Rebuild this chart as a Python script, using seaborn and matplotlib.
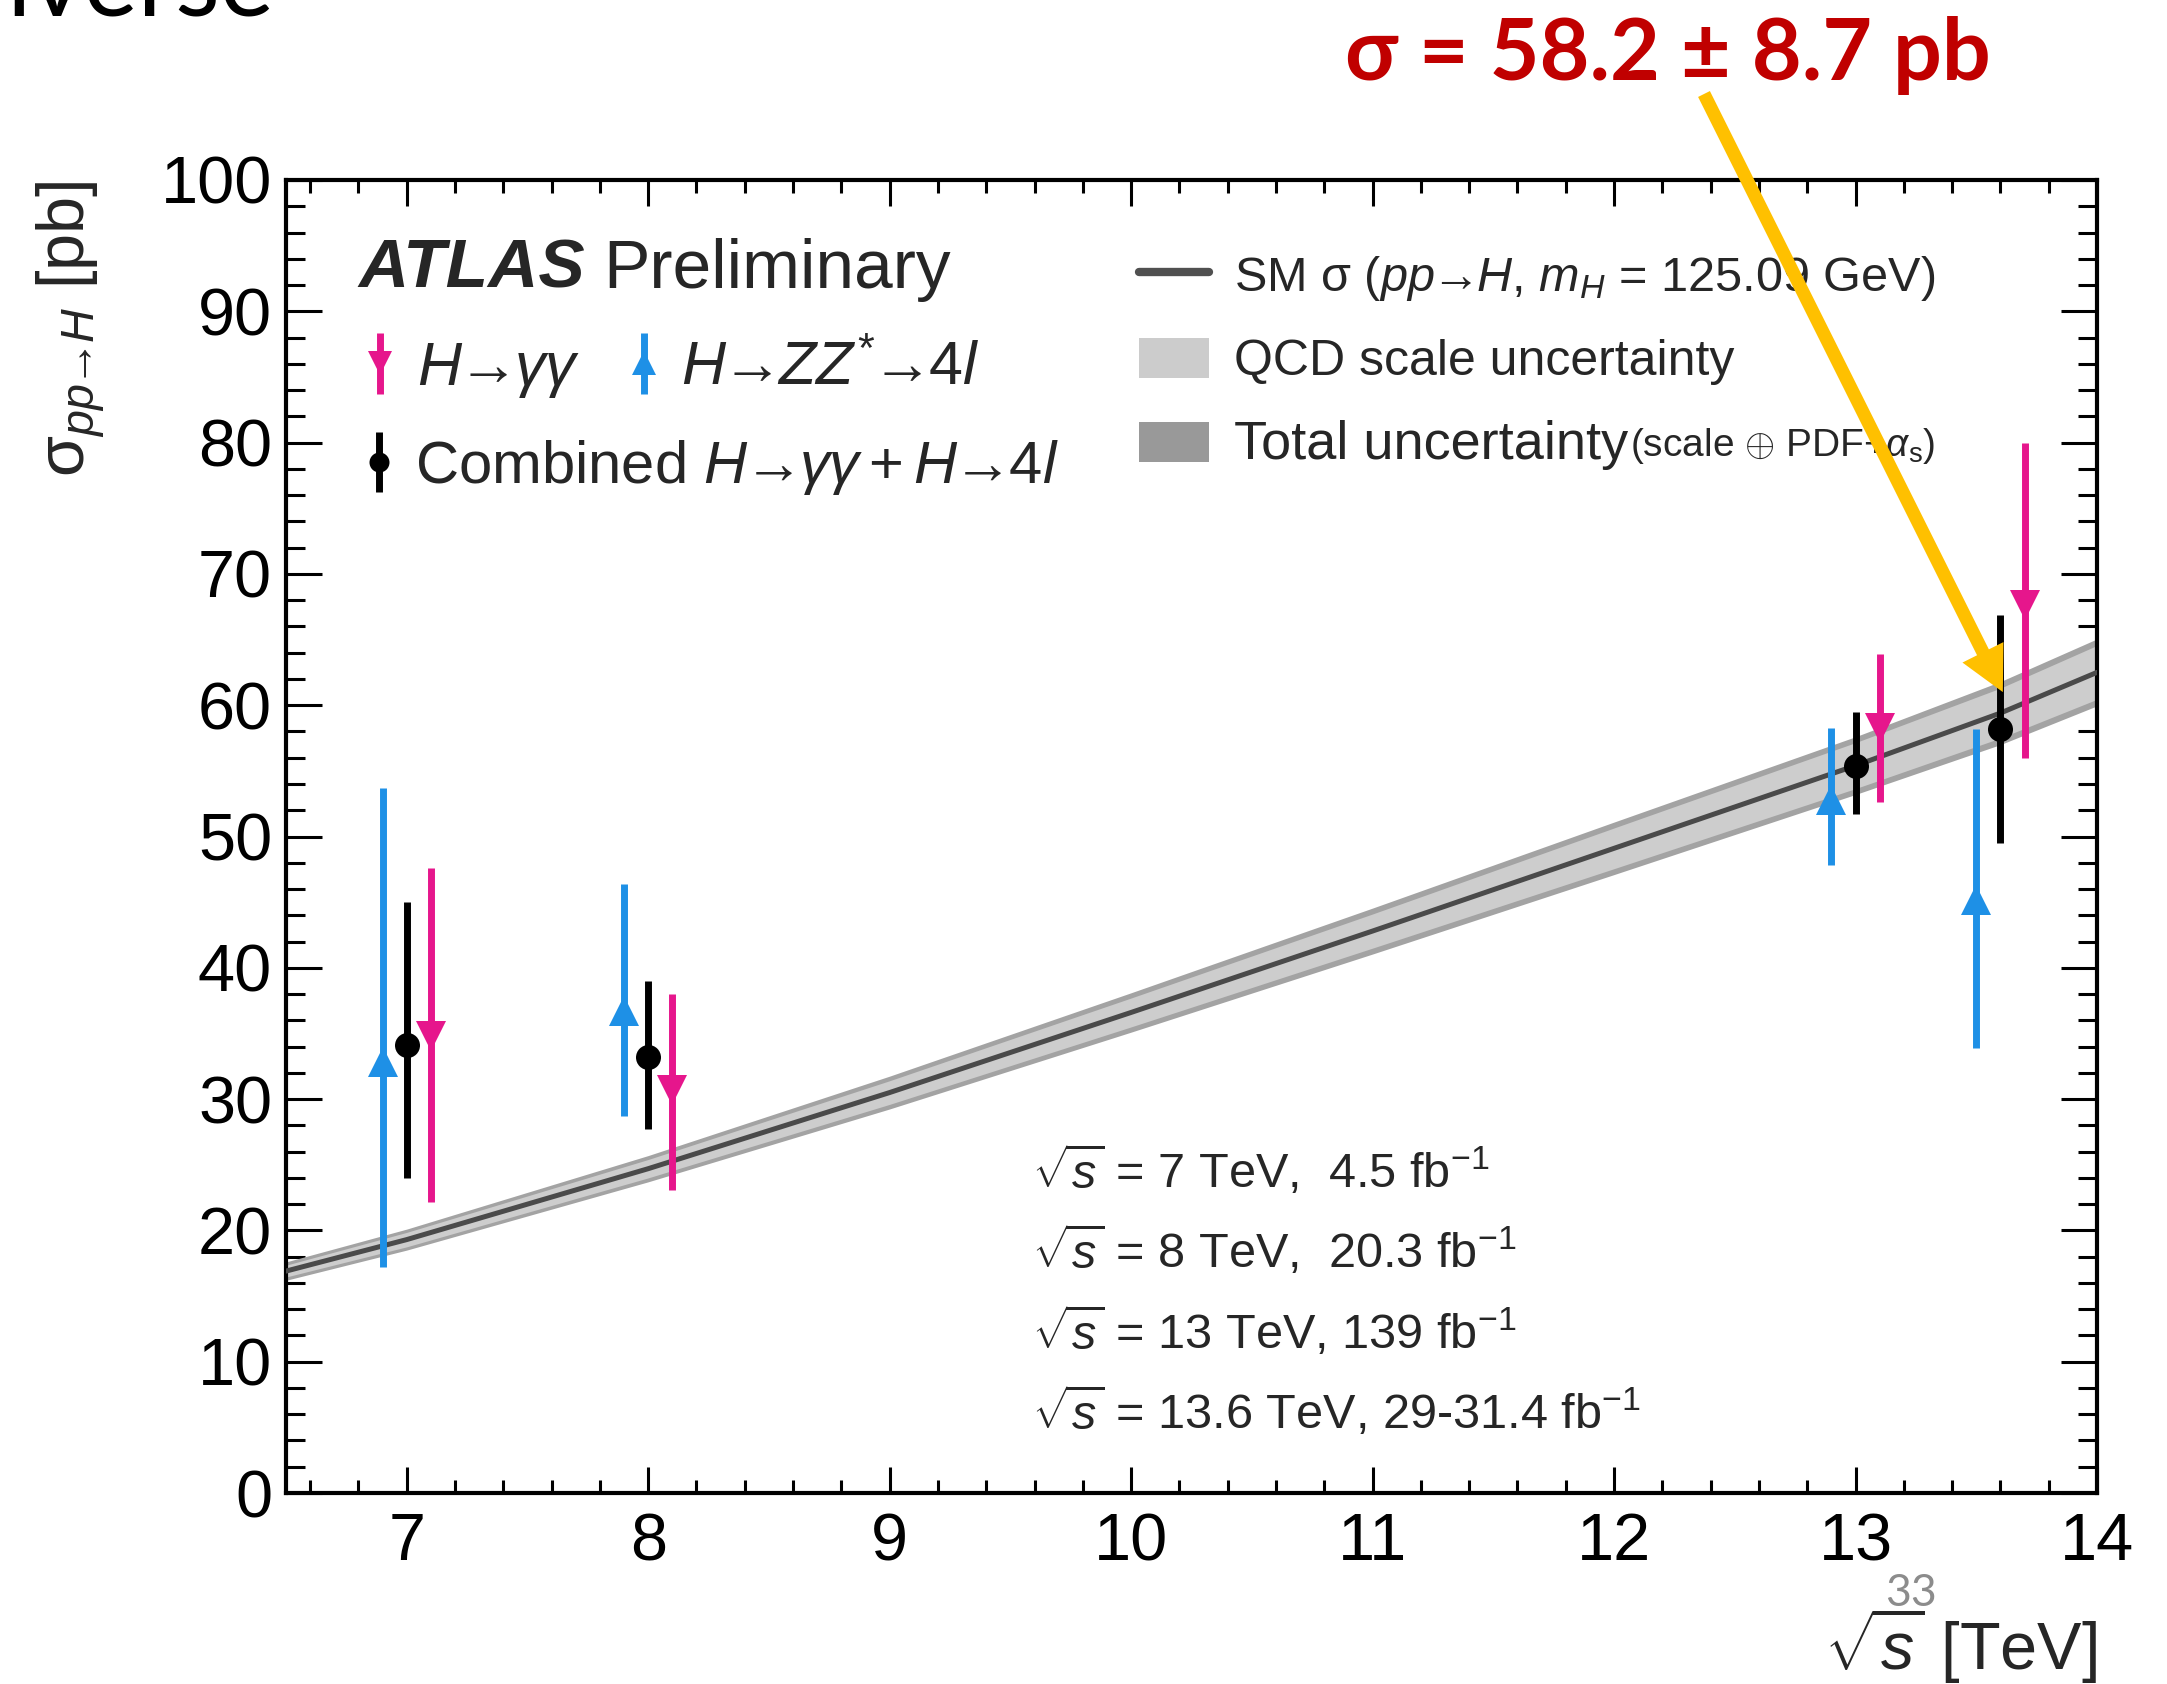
import matplotlib
matplotlib.use('Agg')
import matplotlib.pyplot as plt
from matplotlib.lines import Line2D
from matplotlib.patches import Patch
from matplotlib.ticker import MultipleLocator
import numpy as np
import seaborn as sns

# SM prediction for sigma(pp->H) vs sqrt(s)
sm_sqrt_s = [6.5, 7, 8, 9, 10, 11, 12, 13, 13.6, 14]
sm_xsec = [16.9, 19.3, 24.7, 30.5, 36.6, 42.8, 49.1, 55.4, 59.4, 62.5]
sm_err_total = [0.7, 0.8, 1.0, 1.25, 1.5, 1.75, 2.0, 2.2, 2.4, 2.55]
sm_err_scale = [0.45, 0.55, 0.7, 0.9, 1.1, 1.3, 1.55, 1.75, 1.9, 2.05]

# Measurements (central value, lower and upper edge of the error bar)
meas_sqrt_s = [7, 8, 13, 13.6]
gg_xsec = [34.8, 30.7, 58.3, 67.6]
gg_lo = [22.2, 23.1, 52.6, 56.0]
gg_hi = [47.6, 38.0, 63.9, 80.0]
zz_xsec = [32.8, 36.7, 52.8, 45.2]
zz_lo = [17.2, 28.7, 47.8, 33.9]
zz_hi = [53.7, 46.4, 58.3, 58.2]
comb_xsec = [34.1, 33.2, 55.4, 58.2]
comb_lo = [24.0, 27.7, 51.7, 49.5]
comb_hi = [45.0, 39.0, 59.5, 66.9]

lumi_lines = [r'$\sqrt{s}$ = 7 TeV,  4.5 fb$^{-1}$',
              r'$\sqrt{s}$ = 8 TeV,  20.3 fb$^{-1}$',
              r'$\sqrt{s}$ = 13 TeV, 139 fb$^{-1}$',
              r'$\sqrt{s}$ = 13.6 TeV, 29-31.4 fb$^{-1}$']

blue = '#1E90E6'
magenta = '#E6168C'
arr = r'\!\!\>\!\rightarrow\!\>\!\!'  # fairly tight arrow like in ROOT

sns.set_style('ticks')
plt.rcParams['font.family'] = ['Liberation Sans', 'DejaVu Sans']
plt.rcParams['mathtext.fontset'] = 'custom'
plt.rcParams['mathtext.rm'] = 'Liberation Sans'
plt.rcParams['mathtext.it'] = 'Liberation Sans:italic'
plt.rcParams['mathtext.bf'] = 'Liberation Sans:bold'

fig = plt.figure(figsize=(21.67, 16.84), dpi=100)
ax = fig.add_axes([286 / 2167, 1 - 1493 / 1684, 1811 / 2167, 1313 / 1684])

# SM bands + central line
sm_x = np.array(sm_sqrt_s)
sm_y = np.array(sm_xsec)
ax.fill_between(sm_x, sm_y - np.array(sm_err_total), sm_y + np.array(sm_err_total),
                color='#a3a3a3', lw=0, zorder=1)
ax.fill_between(sm_x, sm_y - np.array(sm_err_scale), sm_y + np.array(sm_err_scale),
                color='#cdcdcd', lw=0, zorder=2)
sns.lineplot(x=sm_x, y=sm_y, ax=ax, color='#4a4a4a', lw=3.6, zorder=3)

# measurements, shifted a bit in x so they don't overlap
x_meas = np.array(meas_sqrt_s)
def draw_points(dx, yc, lo, hi, fmt, color, ms):
    yc = np.array(yc)
    err = [yc - np.array(lo), np.array(hi) - yc]
    return ax.errorbar(x_meas + dx, yc, yerr=err, fmt=fmt, color=color, ms=ms,
                       elinewidth=5, capsize=0, mew=0, zorder=5)

h_zz = draw_points(-0.1, zz_xsec, zz_lo, zz_hi, '^', blue, 21)
h_comb = draw_points(0.0, comb_xsec, comb_lo, comb_hi, 'o', 'black', 18)
h_gg = draw_points(0.1, gg_xsec, gg_lo, gg_hi, 'v', magenta, 21)

ax.set_xlim(6.5, 14)
ax.set_ylim(0, 100)
ax.xaxis.set_major_locator(MultipleLocator(1))
ax.xaxis.set_minor_locator(MultipleLocator(0.2))
ax.yaxis.set_major_locator(MultipleLocator(10))
ax.yaxis.set_minor_locator(MultipleLocator(2))
ax.tick_params(which='both', direction='in', top=True, right=True, width=2.2, colors='black')
ax.tick_params(axis='x', which='major', length=19, labelsize=48, pad=14)
ax.tick_params(axis='x', which='minor', length=9.5)
ax.tick_params(axis='y', which='major', length=26, labelsize=48, pad=10)
ax.tick_params(axis='y', which='minor', length=14)
for sp in ax.spines.values():
    sp.set_linewidth(3)
    sp.set_color('black')

ax.set_ylabel('σ$_{pp' + arr + 'H}$ [pb]', fontsize=48, loc='top')
ax.yaxis.set_label_coords(-0.099, 1.0)
ax.set_xlabel(r'$\sqrt{s}$ [TeV]', fontsize=48, loc='right')
ax.xaxis.set_label_coords(1.0, -0.085)

# ATLAS label
ax.text(0.040, 0.918, 'ATLAS', transform=ax.transAxes, fontsize=50,
        fontweight='bold', fontstyle='italic', va='baseline')
ax.text(0.175, 0.918, 'Preliminary', transform=ax.transAxes, fontsize=50, va='baseline')

# legends for the measurements
leg1 = ax.legend([h_gg, h_zz], ['$H' + arr + r'\gamma\gamma$', '$H' + arr + 'ZZ^{*}' + arr + '4l$'],
                 loc='center left', bbox_to_anchor=(0.025, 0.855), ncol=2, frameon=False,
                 fontsize=44, borderpad=0, handlelength=0.6, handletextpad=0.3,
                 columnspacing=0.75, markerscale=0.8)
ax.add_artist(leg1)
leg2 = ax.legend([h_comb], ['Combined $H' + arr + r'\gamma\gamma + H' + arr + '4l$'],
                 loc='center left', bbox_to_anchor=(0.025, 0.781), frameon=False,
                 fontsize=43, borderpad=0, handlelength=0.6, handletextpad=0.3,
                 markerscale=0.8)
ax.add_artist(leg2)

# legend for the SM prediction
sm_handles = [Line2D([], [], color='#505050', lw=6),
              Patch(facecolor='#cccccc', edgecolor='none'),
              Patch(facecolor='#999999', edgecolor='none')]
sm_labels = ['SM σ ($pp' + arr + 'H$, $m_H$ = 125.09 GeV)',
             'QCD scale uncertainty', 'Total uncertainty']
leg3 = ax.legend(sm_handles, sm_labels, loc='upper left', bbox_to_anchor=(0.457, 0.963),
                 frameon=False, fontsize=36, borderpad=0, handlelength=1.4, handleheight=0.85,
                 handletextpad=0.5, labelspacing=0.7)
leg3.get_texts()[0].set_fontsize(35)
leg3.get_texts()[2].set_fontsize(39)
ax.text(0.742, 0.790, r'(scale $\oplus$ PDF+$\alpha_{\mathrm{s}}$)', transform=ax.transAxes,
        fontsize=28, va='baseline')

# luminosity lines
for i, line in enumerate(lumi_lines):
    ax.text(0.412, 0.232 - 0.061 * i, line, transform=ax.transAxes, fontsize=35, va='baseline')

# slide decorations: highlighted result and arrow
fig.text(1668 / 2167, 1 - 80 / 1684, 'σ = 58.2 ± 8.7 pb', color='#C00000', fontsize=62,
         fontweight='bold', family=['Lato', 'DejaVu Sans'], ha='center', va='baseline')
ax.annotate('', xy=(13.61, 61.0), xycoords='data', xytext=(1704, 1684 - 94),
            textcoords='figure pixels', annotation_clip=False, zorder=20,
            arrowprops=dict(facecolor='#FFC000', edgecolor='none', width=9.5,
                            headwidth=33, headlength=32, shrink=0, clip_on=False))
fig.text(1911 / 2167, 1 - 1594 / 1684, '33', color='#8c8c8c', fontsize=32,
         family=['Lato', 'DejaVu Sans'], ha='center', va='center')
fig.text(6 / 2167, 1 - 15 / 1684, 'iverse', color='black', fontsize=74,
         family=['Lato', 'DejaVu Sans'], ha='left', va='baseline')

fig.savefig('out.png', dpi=100)
